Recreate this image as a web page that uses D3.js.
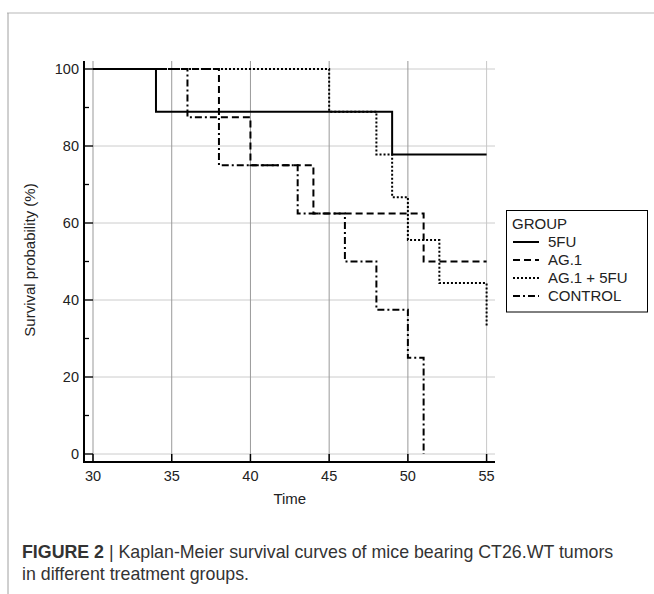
<!DOCTYPE html>
<html>
<head>
<meta charset="utf-8">
<script src="https://cdn.jsdelivr.net/npm/d3@7"></script>
<style>
  body { margin: 0; background: #fff; }
  svg { display: block; }
</style>
</head>
<body>
<div id="chart"></div>
<script>
// survival data (time, percent)
const groups = ["5FU", "AG.1", "AG.1 + 5FU", "CONTROL"];
const times5FU = [30, 34, 49, 55];
const surv5FU = [100, 88.9, 77.8, 77.8];
const timesAG1 = [30, 38, 40, 44, 51, 55];
const survAG1 = [100, 87.5, 75, 62.5, 50, 50];
const timesCombo = [30, 45, 48, 49, 50, 52, 55];
const survCombo = [100, 88.9, 77.8, 66.7, 55.6, 44.4, 33.3];
const timesControl = [30, 36, 38, 43, 46, 48, 50, 51];
const survControl = [100, 87.5, 75, 62.5, 50, 37.5, 25, 0];

const xTicks = [30, 35, 40, 45, 50, 55];
const yTicks = [0, 20, 40, 60, 80, 100];
const yMinor = [10, 30, 50, 70, 90];

const dashes = ["none", "7,4", "2,2", "7,3,2,3"];
const font = "Liberation Sans, Arial, sans-serif";

const W = 654, H = 594;
const svg = d3.select("#chart").append("svg")
  .attr("width", W).attr("height", H);

// page frame
svg.append("line").attr("x1", 7).attr("x2", W).attr("y1", 13).attr("y2", 13)
  .attr("stroke", "#cfcfcf").attr("stroke-width", 1.5);
svg.append("line").attr("x1", 8).attr("x2", 8).attr("y1", 13).attr("y2", H)
  .attr("stroke", "#a0a0a0").attr("stroke-width", 1);

// scales
const x = d3.scaleLinear().domain([30, 55]).range([93, 486.6]);
const y = d3.scaleLinear().domain([0, 100]).range([454, 69]);

const axisX = 84, axisY = 462, topY = 61, rightX = 495;

// grid
svg.selectAll(".hgrid").data(yTicks).enter().append("line")
  .attr("x1", axisX).attr("x2", rightX)
  .attr("y1", d => y(d)).attr("y2", d => y(d))
  .attr("stroke", "#cccccc").attr("stroke-width", 1);
svg.selectAll(".vgrid").data(xTicks).enter().append("line")
  .attr("x1", d => x(d)).attr("x2", d => x(d))
  .attr("y1", topY).attr("y2", axisY)
  .attr("stroke", d => d == 55 ? "#c8c8c8" : "#999999").attr("stroke-width", 1);

// axis lines and ticks
svg.append("line").attr("x1", axisX).attr("x2", axisX).attr("y1", topY).attr("y2", axisY + 1)
  .attr("stroke", "#000").attr("stroke-width", 2);
svg.append("line").attr("x1", axisX - 1).attr("x2", rightX).attr("y1", axisY).attr("y2", axisY)
  .attr("stroke", "#000").attr("stroke-width", 2);

svg.selectAll(".ytick").data(yTicks).enter().append("line")
  .attr("x1", axisX).attr("x2", x(30))
  .attr("y1", d => y(d)).attr("y2", d => y(d))
  .attr("stroke", "#000").attr("stroke-width", 1.3);
svg.selectAll(".yminor").data(yMinor).enter().append("line")
  .attr("x1", axisX).attr("x2", axisX + 5)
  .attr("y1", d => y(d)).attr("y2", d => y(d))
  .attr("stroke", "#000").attr("stroke-width", 1.3);
svg.selectAll(".xtick").data(xTicks).enter().append("line")
  .attr("x1", d => x(d)).attr("x2", d => x(d))
  .attr("y1", y(0)).attr("y2", axisY)
  .attr("stroke", "#000").attr("stroke-width", 1.5);

// tick labels
svg.selectAll(".ylab").data(yTicks).enter().append("text")
  .attr("x", 79).attr("y", d => y(d) + 5)
  .attr("text-anchor", "end")
  .attr("font-family", font).attr("font-size", 14.5)
  .attr("fill", "#222").text(d => d);
svg.selectAll(".xlab").data(xTicks).enter().append("text")
  .attr("x", d => x(d)).attr("y", 481)
  .attr("text-anchor", "middle")
  .attr("font-family", font).attr("font-size", 14.5)
  .attr("fill", "#222").text(d => d);

// axis titles
svg.append("text").attr("x", x(42.5)).attr("y", 504)
  .attr("text-anchor", "middle")
  .attr("font-family", font).attr("font-size", 15)
  .attr("fill", "#222").text("Time");
svg.append("text")
  .attr("transform", "translate(35,260) rotate(-90)")
  .attr("text-anchor", "middle")
  .attr("font-family", font).attr("font-size", 15)
  .attr("fill", "#222").text("Survival probability (%)");

// curves
const series = [
  d3.zip(times5FU, surv5FU),
  d3.zip(timesAG1, survAG1),
  d3.zip(timesCombo, survCombo),
  d3.zip(timesControl, survControl)
];

const line = d3.line()
  .x(d => x(d[0]))
  .y(d => y(d[1]))
  .curve(d3.curveStepAfter);

svg.selectAll(".curve").data(series).enter().append("path")
  .attr("d", line)
  .attr("fill", "none")
  .attr("stroke", "#000")
  .attr("stroke-width", 2)
  .attr("stroke-dasharray", (d, i) => dashes[i]);

// legend
const lg = svg.append("g");
lg.append("rect").attr("x", 506.5).attr("y", 210.5).attr("width", 141).attr("height", 101.5)
  .attr("fill", "#fff").attr("stroke", "#000").attr("stroke-width", 1);
lg.append("text").attr("x", 512).attr("y", 229)
  .attr("font-family", font).attr("font-size", 15)
  .attr("fill", "#222").text("GROUP");
groups.forEach((g, i) => {
  const ly = 242 + i * 18;
  lg.append("line").attr("x1", 513).attr("x2", 539).attr("y1", ly).attr("y2", ly)
    .attr("stroke", "#000").attr("stroke-width", 2)
    .attr("stroke-dasharray", dashes[i]);
  lg.append("text").attr("x", 548).attr("y", ly + 5)
    .attr("font-family", font).attr("font-size", 15)
    .attr("fill", "#222").text(g);
});

// caption
const cap = svg.append("text").attr("x", 22).attr("y", 558)
  .attr("font-family", font).attr("font-size", 17.8)
  .attr("fill", "#333");
cap.append("tspan").attr("font-weight", "bold").text("FIGURE 2");
cap.append("tspan").text(" | Kaplan-Meier survival curves of mice bearing CT26.WT tumors");
svg.append("text").attr("x", 22).attr("y", 580)
  .attr("font-family", font).attr("font-size", 17.8)
  .attr("fill", "#333").text("in different treatment groups.");
</script>
</body>
</html>
